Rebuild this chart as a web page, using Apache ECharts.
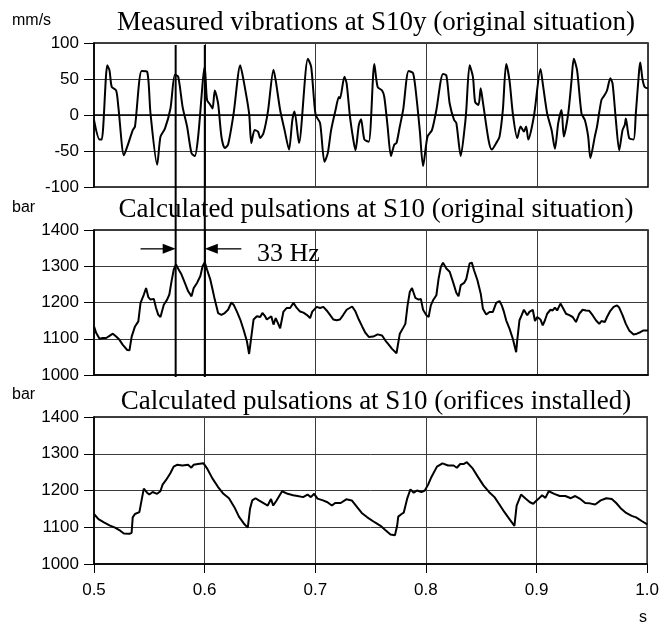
<!DOCTYPE html>
<html><head><meta charset="utf-8">
<script src="https://cdn.jsdelivr.net/npm/echarts@6/dist/echarts.min.js"></script>
<style>html,body{margin:0;padding:0;background:#fff}#c{width:662px;height:627px}</style>
</head><body><div id="c"></div>
<script>
// ---- data (time in s) ----
const vibTime = [0.500,0.505,0.507,0.512,0.514,0.516,0.520,0.522,0.527,0.530,0.535,0.537,0.543,0.548,0.551,0.557,0.560,0.564,0.569,0.573,0.576,0.580,0.584,0.588,0.591,0.594,0.600,0.602,0.605,0.607,0.609,0.612,0.615,0.618,0.621,0.626,0.632,0.635,0.640,0.642,0.645,0.648,0.650,0.653,0.657,0.662,0.664,0.668,0.672,0.676,0.679,0.681,0.685,0.693,0.696,0.700,0.704,0.708,0.711,0.714,0.718,0.721,0.722,0.726,0.728,0.731,0.734,0.736,0.739,0.741,0.744,0.748,0.753,0.756,0.760,0.762,0.765,0.768,0.771,0.773,0.776,0.779,0.784,0.788,0.791,0.794,0.797,0.801,0.805,0.809,0.815,0.818,0.821,0.825,0.827,0.831,0.835,0.836,0.839,0.842,0.844,0.847,0.849,0.851,0.856,0.859,0.863,0.866,0.869,0.872,0.875,0.878,0.882,0.885,0.888,0.890,0.892,0.897,0.903,0.905,0.909,0.913,0.916,0.919,0.922,0.924,0.928,0.931,0.933,0.936,0.940,0.943,0.946,0.948,0.952,0.954,0.958,0.961,0.963,0.966,0.968,0.971,0.974,0.977,0.979,0.980,0.983,0.987,0.989,0.992,0.993,0.995,0.997,1.000];
const vibration = [-7,-34,-34,69,62,39,34,11,-56,-44,-21,-16,61,60,2,-69,-30,-19,9,56,53,11,-16,-53,-57,-30,67,21,14,9,34,16,-30,-46,-41,2,69,48,2,-39,-21,-23,-32,-25,5,63,48,7,-21,-48,-7,5,-39,78,67,0,-11,-65,-53,-21,7,25,23,53,44,-2,-34,-49,-14,-6,-34,-37,71,39,34,25,-16,-57,-41,-39,-16,7,61,58,25,-21,-71,-30,-21,7,57,55,16,-7,-11,-57,-11,7,69,53,18,14,37,18,-34,-48,-39,-30,7,71,48,2,-32,-16,-23,-16,-34,-2,64,44,2,-21,-47,-11,7,-30,2,48,78,62,2,-7,-30,-60,-30,-16,21,28,34,51,44,-7,-49,-21,-14,-5,-32,-34,2,62,73,50,39,37];

const origTime = [0.500,0.502,0.505,0.508,0.511,0.514,0.517,0.520,0.523,0.526,0.530,0.532,0.534,0.537,0.540,0.542,0.545,0.547,0.549,0.551,0.554,0.556,0.558,0.560,0.563,0.566,0.568,0.570,0.572,0.574,0.576,0.579,0.582,0.585,0.588,0.590,0.593,0.596,0.598,0.600,0.602,0.605,0.607,0.609,0.612,0.615,0.618,0.621,0.624,0.626,0.629,0.632,0.635,0.638,0.640,0.642,0.644,0.647,0.650,0.652,0.654,0.656,0.657,0.660,0.662,0.664,0.666,0.668,0.671,0.674,0.677,0.680,0.683,0.686,0.689,0.692,0.695,0.697,0.701,0.704,0.707,0.710,0.713,0.716,0.719,0.722,0.725,0.728,0.733,0.736,0.739,0.742,0.745,0.748,0.752,0.756,0.760,0.763,0.766,0.769,0.773,0.774,0.776,0.779,0.781,0.783,0.785,0.787,0.790,0.793,0.795,0.797,0.800,0.802,0.804,0.806,0.809,0.811,0.813,0.815,0.818,0.821,0.824,0.827,0.829,0.831,0.834,0.836,0.839,0.841,0.843,0.846,0.849,0.851,0.854,0.857,0.860,0.863,0.866,0.868,0.870,0.872,0.875,0.878,0.881,0.882,0.884,0.886,0.888,0.891,0.893,0.896,0.898,0.900,0.903,0.905,0.907,0.909,0.912,0.914,0.916,0.918,0.921,0.923,0.926,0.929,0.932,0.935,0.938,0.941,0.944,0.947,0.950,0.953,0.956,0.958,0.961,0.963,0.966,0.969,0.972,0.974,0.977,0.980,0.983,0.987,0.990,0.993,0.996,1.000];
const pulsationOriginal = [1134,1116,1100,1102,1102,1108,1114,1106,1097,1083,1069,1068,1106,1134,1148,1199,1222,1240,1215,1208,1210,1185,1166,1160,1194,1208,1222,1259,1291,1305,1293,1277,1254,1231,1217,1240,1254,1273,1300,1311,1291,1263,1236,1208,1171,1166,1171,1180,1200,1194,1175,1153,1125,1093,1058,1106,1153,1162,1160,1171,1164,1153,1153,1162,1139,1157,1143,1129,1175,1185,1185,1199,1185,1175,1172,1166,1157,1175,1188,1185,1188,1178,1166,1153,1151,1153,1166,1180,1189,1175,1153,1134,1116,1105,1106,1112,1109,1095,1084,1072,1060,1062,1114,1130,1141,1192,1229,1240,1213,1208,1210,1180,1165,1160,1192,1206,1220,1266,1298,1310,1294,1285,1257,1227,1217,1248,1254,1265,1308,1310,1289,1262,1225,1183,1167,1174,1174,1199,1204,1192,1174,1151,1128,1100,1063,1096,1151,1165,1180,1165,1174,1180,1149,1160,1153,1137,1151,1169,1180,1178,1186,1178,1197,1186,1169,1165,1160,1146,1169,1180,1178,1177,1165,1151,1141,1149,1146,1160,1177,1188,1192,1186,1165,1141,1123,1112,1114,1118,1123,1123];

const orifTime = [0.500,0.504,0.509,0.514,0.519,0.524,0.527,0.532,0.534,0.535,0.537,0.541,0.543,0.545,0.548,0.550,0.553,0.557,0.560,0.562,0.565,0.569,0.572,0.575,0.580,0.585,0.588,0.590,0.594,0.599,0.602,0.607,0.612,0.617,0.622,0.627,0.631,0.636,0.639,0.641,0.643,0.646,0.649,0.654,0.657,0.660,0.662,0.665,0.670,0.675,0.680,0.684,0.689,0.693,0.696,0.699,0.702,0.707,0.711,0.715,0.718,0.723,0.728,0.733,0.738,0.742,0.747,0.754,0.759,0.763,0.768,0.772,0.774,0.775,0.778,0.780,0.783,0.786,0.789,0.792,0.796,0.799,0.802,0.805,0.810,0.815,0.820,0.825,0.828,0.831,0.834,0.837,0.842,0.847,0.852,0.857,0.862,0.866,0.871,0.876,0.880,0.882,0.886,0.890,0.894,0.897,0.900,0.902,0.905,0.908,0.911,0.916,0.921,0.926,0.931,0.935,0.939,0.944,0.948,0.953,0.958,0.963,0.968,0.972,0.976,0.981,0.986,0.990,0.995,1.000];
const pulsationOrifices = [1136,1122,1113,1105,1099,1090,1083,1082,1085,1127,1136,1141,1173,1205,1194,1189,1196,1191,1198,1216,1228,1247,1265,1270,1268,1270,1262,1270,1272,1274,1261,1233,1210,1191,1179,1154,1129,1108,1099,1150,1173,1179,1173,1164,1159,1177,1159,1173,1198,1191,1187,1185,1182,1189,1182,1191,1178,1173,1168,1159,1166,1166,1176,1173,1154,1139,1127,1113,1104,1093,1080,1078,1104,1129,1136,1140,1177,1203,1194,1200,1196,1200,1216,1237,1265,1274,1268,1268,1262,1272,1272,1277,1261,1237,1214,1196,1182,1164,1141,1120,1104,1159,1189,1178,1168,1164,1173,1178,1187,1180,1198,1191,1185,1185,1179,1185,1178,1166,1165,1162,1173,1179,1177,1166,1152,1139,1131,1127,1117,1108];

const xTicks = [0.5, 0.6, 0.7, 0.8, 0.9, 1.0];
const vibTicks = [-100, -50, 0, 50, 100];
const barTicks = [1000, 1100, 1200, 1300, 1400];
const cursorTimes = [0.5737, 0.6];
const arrowLevel = 1348;
const arrowLeft = [0.542, 0.5737];
const arrowRight = [0.633, 0.6];
const hzLabel = {text: '33 Hz', t: 0.647, v: 1333};

const titles = ['Measured vibrations at S10y (original situation)',
                'Calculated pulsations at S10 (original situation)',
                'Calculated pulsations at S10 (orifices installed)'];
const units = ['mm/s', 'bar', 'bar'];

// ---- chart ----
const chart = echarts.init(document.getElementById('c'), null, {renderer: 'canvas'});
const SANS = '"Liberation Sans", Arial, sans-serif';
const SERIF = '"Liberation Serif", "Times New Roman", serif';
const grids = [
  {left: 94, right: 14, top: 43, height: 144},
  {left: 94, right: 14, top: 230, height: 145},
  {left: 94, right: 14, top: 417, height: 147}
];
const gridLine = {show: true, lineStyle: {color: '#3a3a3a', width: 1}};

function xAx(i) {
  const last = i === 2;
  return {
    type: 'value', gridIndex: i, min: xTicks[0], max: xTicks[xTicks.length - 1], interval: 0.1,
    axisLine: {show: true, lineStyle: {color: '#000', width: 1.5}},
    axisTick: {show: last, length: 9, lineStyle: {color: '#000'}},
    axisLabel: {show: last, margin: 18, fontFamily: SANS, fontSize: 17, color: '#000',
      formatter: v => v.toFixed(1)},
    splitLine: gridLine
  };
}
function yAx(i, ticks) {
  return {
    type: 'value', gridIndex: i, min: ticks[0], max: ticks[ticks.length - 1],
    interval: ticks[1] - ticks[0],
    axisLine: {show: true, lineStyle: {color: '#000', width: 1.5}},
    axisTick: {show: true, length: 10, lineStyle: {color: '#000'}},
    axisLabel: {margin: 15, fontFamily: SANS, fontSize: 17, color: '#000',
      formatter: v => String(Math.round(v))},
    splitLine: gridLine
  };
}
function zip(t, v) { return t.map((x, k) => [x, v[k]]); }
const lineStyle = {color: '#000', width: 2};

chart.setOption({
  animation: false,
  backgroundColor: '#fff',
  grid: grids.map(g => Object.assign({show: true, borderColor: '#000', borderWidth: 1.5, backgroundColor: 'transparent'}, g)),
  xAxis: [xAx(0), xAx(1), xAx(2)],
  yAxis: [yAx(0, vibTicks), yAx(1, barTicks), yAx(2, barTicks)],
  series: [
    {type: 'line', xAxisIndex: 0, yAxisIndex: 0, data: zip(vibTime, vibration), showSymbol: false, smooth: 0.25, lineStyle},
    {type: 'line', xAxisIndex: 1, yAxisIndex: 1, data: zip(origTime, pulsationOriginal), showSymbol: false, lineStyle},
    {type: 'line', xAxisIndex: 2, yAxisIndex: 2, data: zip(orifTime, pulsationOrifices), showSymbol: false, lineStyle}
  ]
});

// overlay: titles, units, cursors, arrows
const g = [];
const titleY = [23, 210, 402];
const unitY = [21, 208, 395];
titles.forEach((t, i) => g.push({type: 'text', x: 376, y: titleY[i],
  style: {text: t, font: '27px ' + SERIF, fill: '#000', textAlign: 'center', textVerticalAlign: 'middle'}}));
units.forEach((u, i) => g.push({type: 'text', x: 12, y: unitY[i],
  style: {text: u, font: '16px ' + SANS, fill: '#000', textAlign: 'left', textVerticalAlign: 'middle'}}));
g.push({type: 'text', x: 643, y: 618, style: {text: 's', font: '16px ' + SANS, fill: '#000', textAlign: 'center', textVerticalAlign: 'middle'}});

cursorTimes.forEach(t => {
  const p1 = chart.convertToPixel({gridIndex: 0}, [t, vibTicks[vibTicks.length - 1]]);
  const p2 = chart.convertToPixel({gridIndex: 1}, [t, barTicks[0]]);
  g.push({type: 'line', shape: {x1: p1[0], y1: p1[1] + 2, x2: p2[0], y2: p2[1] + 2},
    style: {stroke: '#000', lineWidth: 2}, z: 100});
});
function arrow(from, to) {
  const a = chart.convertToPixel({gridIndex: 1}, [from, arrowLevel]);
  const b = chart.convertToPixel({gridIndex: 1}, [to, arrowLevel]);
  const dir = b[0] > a[0] ? 1 : -1;
  g.push({type: 'line', shape: {x1: a[0], y1: a[1], x2: b[0] - dir * 10, y2: b[1]}, style: {stroke: '#000', lineWidth: 1.3}, z: 100});
  g.push({type: 'polygon', shape: {points: [[b[0], b[1]], [b[0] - dir * 13, b[1] - 5], [b[0] - dir * 13, b[1] + 5]]}, style: {fill: '#000'}, z: 100});
}
arrow(arrowLeft[0], arrowLeft[1]);
arrow(arrowRight[0], arrowRight[1]);
const hp = chart.convertToPixel({gridIndex: 1}, [hzLabel.t, hzLabel.v]);
g.push({type: 'text', x: hp[0], y: hp[1], style: {text: hzLabel.text, font: '26px ' + SERIF, fill: '#000', textAlign: 'left', textVerticalAlign: 'middle'}, z: 100});

chart.setOption({graphic: g});
</script></body></html>
